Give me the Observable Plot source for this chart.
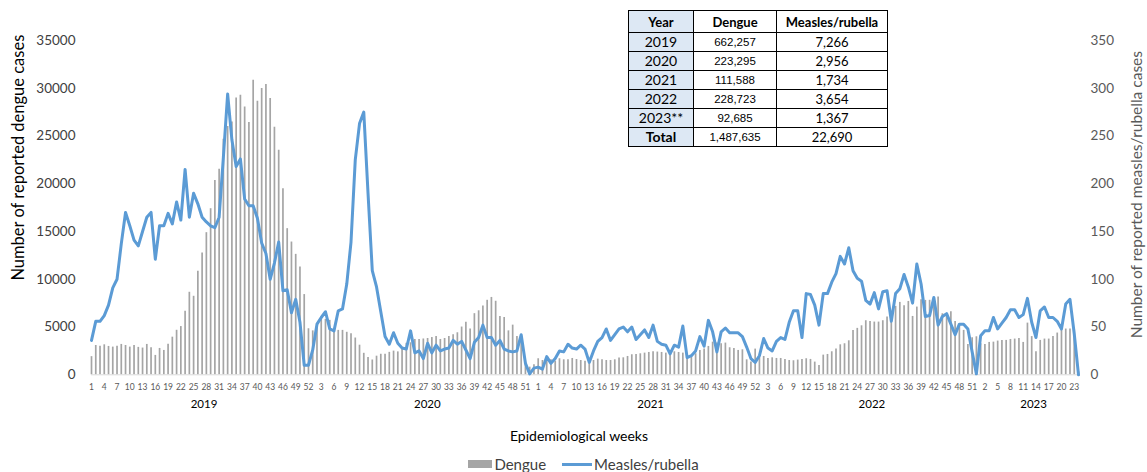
<!DOCTYPE html>
<html>
<head>
<meta charset="utf-8">
<script src="https://cdn.jsdelivr.net/npm/d3@7"></script>
<script src="https://cdn.jsdelivr.net/npm/@observablehq/plot@0.6"></script>
<style>
  html, body { margin: 0; padding: 0; background: #fff; }
  #wrap { position: relative; width: 1147px; height: 472px; overflow: hidden; font-family: Lato, "Liberation Sans", sans-serif; }
  #tbl { position: absolute; left: 628px; top: 10px; border-collapse: collapse; border: 1.5px solid #000; table-layout: fixed; }
  #tbl td, #tbl th { border: 1px solid #000; text-align: center; padding: 0; height: 18px; line-height: 18px; color: #000; }
  #tbl th { font-family: Lato, sans-serif; font-weight: bold; font-size: 13px; height: 21px; }
  #tbl td.yr { background: #dde8f4; font-family: Lato, sans-serif; font-size: 14px; }
  #tbl th.yr { background: #dde8f4; }
  #tbl td.dg { font-family: "Liberation Sans", Arial, sans-serif; font-size: 11.5px; }
  #tbl td.ms { font-family: Lato, sans-serif; font-size: 13px; }
  #tbl tr.tot td.yr { font-weight: bold; }
  #legend { position: absolute; top: 455px; left: 0; width: 1147px; display: flex; justify-content: center; align-items: center; font-size: 15px; color: #404040; padding-left: 20px; box-sizing: border-box; }
  .sw { display: inline-block; }
</style>
</head>
<body>
<div id="wrap"></div>
<script>
// ---- Data ----
const years = ["2019", "2020", "2021", "2022", "2023"];

const dengue2019 = [1900,3070,3000,3140,2970,2900,3000,3180,3070,2900,3070,2870,2800,3180,2830,2030,2760,2550,3210,3940,4660,5050,6650,8640,8220,10850,12740,14880,17390,20330,21520,24660,26000,26470,28990,29270,28050,26410,30840,28640,29970,30390,28920,25920,23510,19490,15300,13900,12610,11280,8400,4820];
const dengue2020 = [4600,5200,5900,5800,5700,4700,4650,4650,4450,4300,3850,3100,2250,1800,1550,1950,2150,2150,2350,2480,2400,2750,3300,3350,3700,3700,3750,3800,3900,4000,3700,3800,4000,4200,4400,5000,5500,4800,6400,6700,7200,7800,8100,7700,6100,6000,4600,5200,4000,3800,1300,800,1050];
const dengue2021 = [1680,1500,1780,1570,1430,1680,1570,1570,1710,1600,1500,1430,1290,1500,1640,1570,1500,1500,1570,1750,1780,1920,2100,2130,2200,2270,2340,2410,2380,2340,2270,2340,2410,2340,2270,1920,1850,2200,2550,2690,2970,3420,3320,3250,3320,2830,2760,2550,2620,1570,1330,2690];
const dengue2022 = [1800,1920,1710,1780,1710,1710,1610,1500,1470,1540,1610,1680,1610,1330,980,2060,2130,2410,2690,3140,3250,3560,4650,4860,5130,5660,5590,5520,5520,5660,6040,5500,7160,7580,7230,7680,6110,7090,7860,7790,7800,7860,8140,6390,6320,6600,5590,5130,4650,3180,3880,3980];
const dengue2023 = [3250,3180,3390,3420,3530,3600,3600,3700,3740,3810,3390,5410,4000,2410,3600,3740,3740,4020,4370,4720,4790,4790,4700,300];

const measles2019 = [36,56,56,62,73,91,100,137,170,156,141,135,150,165,170,121,156,156,169,158,181,162,215,165,190,179,165,160,156,154,165,228,294,246,218,226,184,177,177,164,138,127,100,117,139,88,89,65,79,55,10,10];
const measles2020 = [26,53,60,66,48,46,67,69,95,139,225,263,275,190,109,92,66,40,32,44,33,28,27,46,23,25,17,33,23,31,25,27,28,36,32,35,26,17,34,39,52,39,39,31,36,27,25,24,25,42,12,1,7];
const measles2021 = [8,6,19,12,17,25,24,32,28,27,31,27,13,25,35,39,48,36,42,48,50,45,50,37,42,47,39,52,35,32,31,22,31,29,51,18,20,25,40,30,57,45,24,45,49,44,44,44,40,29,17,13];
const measles2022 = [20,38,28,25,35,39,37,55,67,67,39,85,84,73,52,85,85,97,106,124,116,133,109,101,98,78,74,86,69,87,88,56,85,90,105,92,75,116,95,61,62,81,52,61,64,53,42,53,53,48,24,1];
const measles2023 = [41,46,46,60,48,54,60,68,68,60,63,80,55,39,67,71,60,60,56,48,74,79,43,0];

const dengueTicks = [0, 5000, 10000, 15000, 20000, 25000, 30000, 35000];
const measlesTicks = [0, 50, 100, 150, 200, 250, 300, 350];

const tableYears = ["2019", "2020", "2021", "2022", "2023**", "Total"];
const tableDengue = ["662,257", "223,295", "111,588", "228,723", "92,685", "1,487,635"];
const tableMeasles = ["7,266", "2,956", "1,734", "3,654", "1,367", "22,690"];

// ---- Build rows ----
const dengueByYear = [dengue2019, dengue2020, dengue2021, dengue2022, dengue2023];
const measlesByYear = [measles2019, measles2020, measles2021, measles2022, measles2023];
const rows = [];
const yearMids = [];
let offset = 0;
years.forEach((yr, k) => {
  const dv = dengueByYear[k];
  dv.forEach((v, j) => rows.push({i: offset + j, year: yr, week: j + 1, dengue: v, measles: measlesByYear[k][j]}));
  yearMids.push({year: yr, mid: offset + (dv.length - 1) / 2});
  offset += dv.length;
});
const weekOf = new Map(rows.map(d => [d.i, d.week]));
const n = rows.length;
const factor = 100; // measles axis 0..350 mapped onto dengue axis 0..35000

const W = 1147, H = 450;
const chart = Plot.plot({
  width: W,
  height: H,
  marginLeft: 91,
  marginRight: 69,
  marginTop: 40,
  marginBottom: H - 374.3,
  style: {fontFamily: "Lato, sans-serif", background: "transparent", overflow: "visible"},
  x: {type: "linear", domain: [0, n - 1], axis: null},
  y: {domain: [0, 35000], axis: null},
  marks: [
    Plot.ruleX(rows, {x: "i", y1: 0, y2: "dengue", stroke: "#a5a5a5", strokeWidth: 1.7}),
    Plot.ruleY([0], {stroke: "#d9d9d9", strokeWidth: 1}),
    Plot.line(rows, {x: "i", y: d => d.measles * factor, stroke: "#5b9bd5", strokeWidth: 3, strokeLinejoin: "round", strokeLinecap: "round"}),
    Plot.axisY({anchor: "left", ticks: dengueTicks, tickSize: 0, tickPadding: 16, fontSize: 13.5, color: "#404040", tickFormat: d => String(d), label: null}),
    Plot.axisY({anchor: "right", ticks: measlesTicks.map(v => v * factor), tickSize: 0, tickPadding: 12, fontSize: 13.5, color: "#595959", tickFormat: d => String(d / factor), label: null}),
    Plot.axisX({anchor: "bottom", ticks: d3.range(0, n, 3), tickSize: 0, tickPadding: 9, fontSize: 8.5, color: "#595959", tickFormat: i => String(weekOf.get(i)), label: null}),
    Plot.text(yearMids, {x: "mid", text: "year", frameAnchor: "bottom", dy: 33, dx: 4, fontSize: 11.5, fill: "#000"}),
    Plot.text(["Epidemiological weeks"], {frameAnchor: "bottom", dy: 66, dx: -6, fontSize: 14, fill: "#000"}),
    Plot.text(["Number of reported dengue cases"], {frameAnchor: "left", textAnchor: "middle", rotate: -90, dx: -73, dy: -50, fontSize: 16.5, fill: "#000"}),
    Plot.text(["Number of reported measles/rubella cases"], {frameAnchor: "right", textAnchor: "middle", rotate: -90, dx: 59, dy: -13, fontSize: 15.5, fill: "#595959"})
  ]
});
chart.style.position = "absolute";
chart.style.left = "0px";
chart.style.top = "0px";
const wrap = document.getElementById("wrap");
wrap.appendChild(chart);

// ---- Table ----
const tbl = document.createElement("table");
tbl.id = "tbl";
const cg = document.createElement("colgroup");
[65, 83, 111].forEach(w => { const c = document.createElement("col"); c.style.width = w + "px"; cg.appendChild(c); });
tbl.appendChild(cg);
const hr = document.createElement("tr");
[["Year", "yr"], ["Dengue", ""], ["Measles/rubella", ""]].forEach(([t, c]) => {
  const th = document.createElement("th"); th.textContent = t; if (c) th.className = c; hr.appendChild(th);
});
tbl.appendChild(hr);
tableYears.forEach((yr, k) => {
  const tr = document.createElement("tr");
  if (yr === "Total") tr.className = "tot";
  [[yr, "yr"], [tableDengue[k], "dg"], [tableMeasles[k], "ms"]].forEach(([t, c]) => {
    const td = document.createElement("td"); td.textContent = t; td.className = c; tr.appendChild(td);
  });
  tbl.appendChild(tr);
});
wrap.appendChild(tbl);

// ---- Legend ----
const lg = document.createElement("div");
lg.id = "legend";
lg.innerHTML =
  '<span class="sw" style="width:24px;height:8px;background:#a5a5a5;margin-right:2px"></span><span>Dengue</span>' +
  '<span class="sw" style="width:30px;height:3px;background:#5b9bd5;margin-left:16px;margin-right:2px"></span><span>Measles/rubella</span>';
wrap.appendChild(lg);
</script>
</body>
</html>
